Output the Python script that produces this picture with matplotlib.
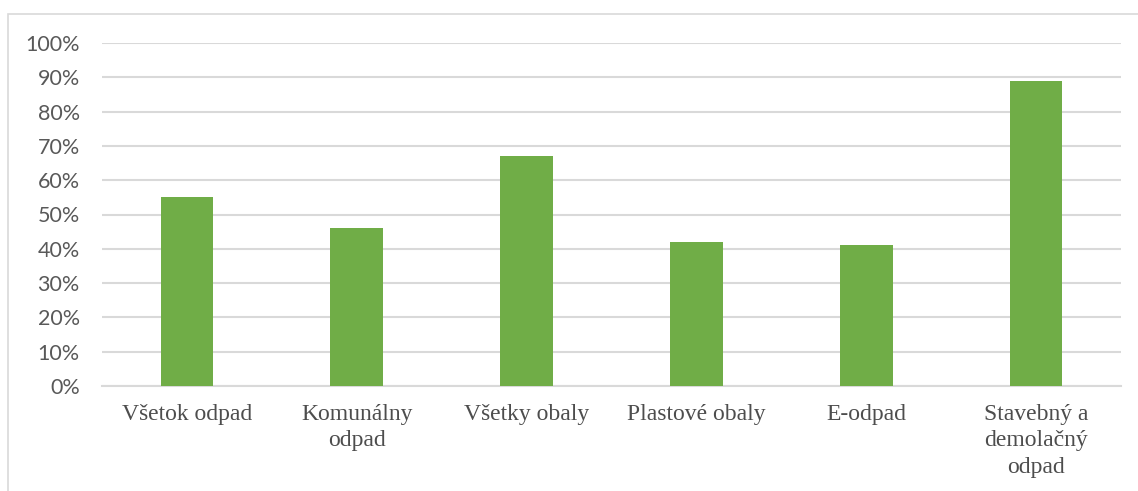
import matplotlib
matplotlib.use("Agg")
import matplotlib.pyplot as plt
from matplotlib.patches import Rectangle
from matplotlib.ticker import FuncFormatter

categories = ["Všetok odpad", "Komunálny\nodpad", "Všetky obaly", "Plastové obaly", "E-odpad", "Stavebný a\ndemolačný\nodpad"]
values = [55, 46, 67, 42, 41, 89]
yticks = [0, 10, 20, 30, 40, 50, 60, 70, 80, 90, 100]

W, H = 1138, 491
fig = plt.figure(figsize=(W / 100, H / 100), dpi=100)
ax = fig.add_axes([102 / W, 105 / H, (1121 - 102) / W, (386 - 43) / H])

# outer chart border
fig.patches.append(Rectangle((8 / W, -0.01), 1.02, (H - 14) / H + 0.01, transform=fig.transFigure,
                             fill=False, edgecolor="#d9d9d9", linewidth=1.2))

x = list(range(len(categories)))
ax.bar(x, values, width=0.31, color="#70ad47", zorder=3)
ax.set_xlim(-0.5, len(categories) - 0.5)
ax.set_ylim(0, 100)
ax.set_yticks(yticks)
ax.yaxis.set_major_formatter(FuncFormatter(lambda v, p: f"{int(v)}%"))
ax.grid(axis="y", color="#d9d9d9", linewidth=1.5, zorder=0)
ax.set_xticks(x)
ax.set_xticklabels(categories, family="Liberation Serif", fontsize=17, color="#4d4d4d", linespacing=1.33)
for lbl in ax.get_yticklabels():
    lbl.set_family("Lato")
    lbl.set_fontsize(15.5)
    lbl.set_color("#595959")
ax.tick_params(axis="both", length=0)
ax.tick_params(axis="y", pad=16)
ax.tick_params(axis="x", pad=13)
for s in ax.spines.values():
    s.set_visible(False)
ax.spines["bottom"].set_visible(True)
ax.spines["bottom"].set_color("#d9d9d9")
ax.spines["bottom"].set_linewidth(1.5)

fig.savefig("out.png", dpi=100)
